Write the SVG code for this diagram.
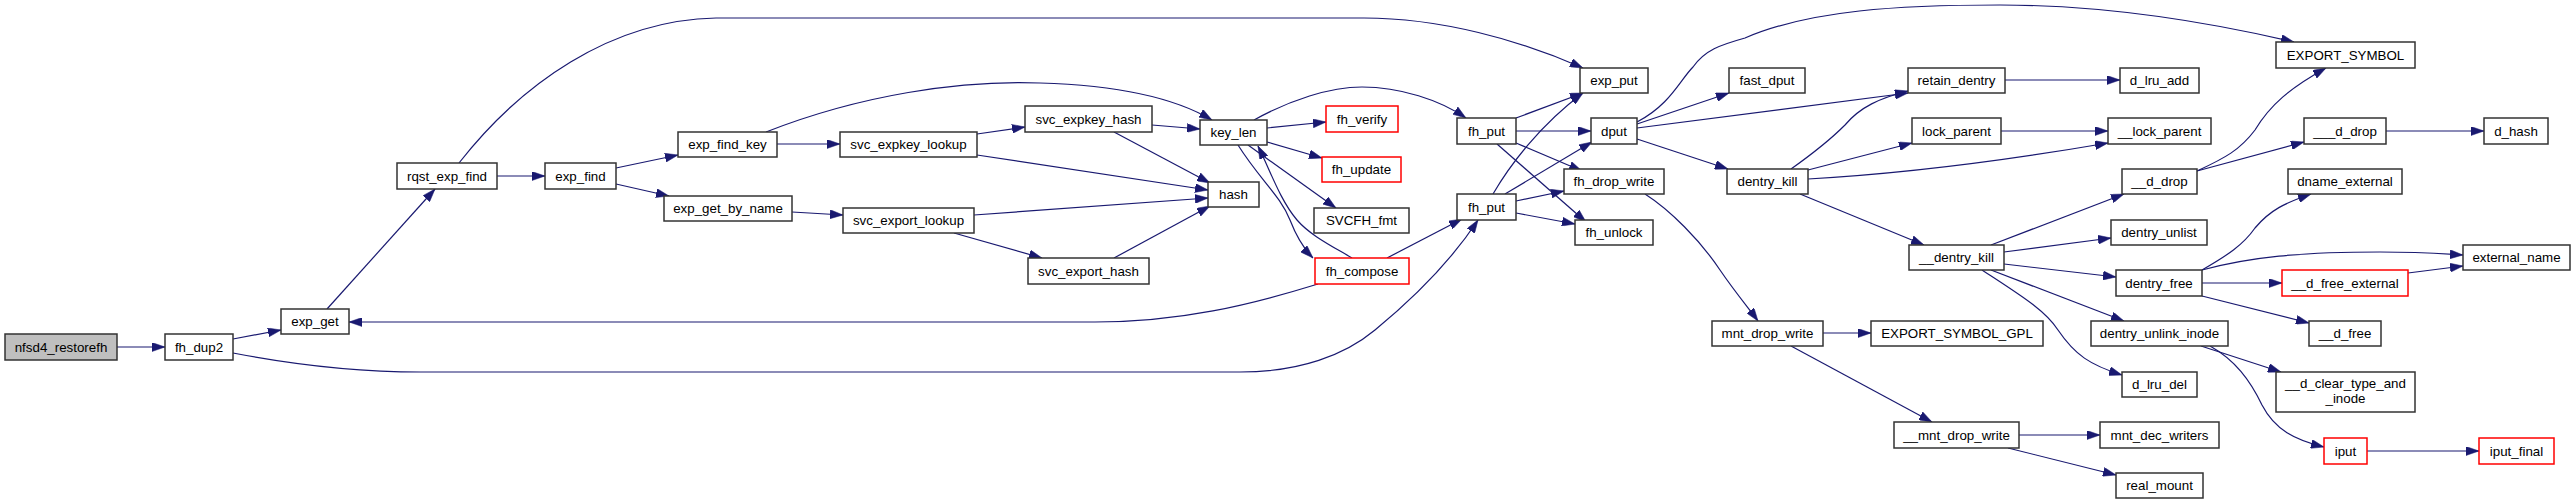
<svg xmlns="http://www.w3.org/2000/svg" width="2575" height="504" viewBox="0 0 2575 504">
<style>
.n rect{fill:#fff;stroke:#333;stroke-width:1.5}
.n.r rect{stroke:#f00}
.n.root rect{fill:#bfbfbf}
.n text{font-family:"Liberation Sans",Arial,sans-serif;font-size:13.33px;fill:#000;text-anchor:middle}
.e path{fill:none;stroke:#191970;stroke-width:1.2;marker-end:url(#a)}
</style>
<defs>
<marker id="a" viewBox="0 0 13 9" refX="13" refY="4.5" markerWidth="13" markerHeight="9" markerUnits="userSpaceOnUse" orient="auto">
<path d="M0,0 L13,4.5 L0,9 z" fill="#191970" stroke="#191970" stroke-width="0.5"/>
</marker>
</defs>
<rect width="2575" height="504" fill="#fff"/>
<g class="e" id="edges">
<path d="M117,347 L165,347"/>
<path d="M233,339 L281,330"/>
<path d="M233,353 C290,364 350,372 421,372 L1240,372 C1300,372 1345,355 1375,330 C1420,293 1455,255 1478,220"/>
<path d="M327,309 L435,189"/>
<path d="M497,176 L545,176"/>
<path d="M459,163 C520,85 610,20 716,18 L1364,18 C1440,18 1520,40 1583,68"/>
<path d="M616,168 L678,155"/>
<path d="M616,184 L669,196"/>
<path d="M777,144 L840,144"/>
<path d="M766,132 C860,95 960,80 1040,83 C1110,85 1170,95 1212,120"/>
<path d="M977,134 L1025,127"/>
<path d="M977,155 L1208,190"/>
<path d="M1152,125 L1200,129"/>
<path d="M1114,132 L1210,183"/>
<path d="M792,212 L843,215"/>
<path d="M974,215 L1208,198"/>
<path d="M954,233 L1042,258"/>
<path d="M1114,258 L1210,206"/>
<path d="M1254,120 C1290,100 1330,87 1362,87 C1400,87 1440,100 1466,118"/>
<path d="M1267,128 L1326,122"/>
<path d="M1267,142 L1322,158"/>
<path d="M1248,145 L1336,208"/>
<path d="M1238,145 C1260,180 1280,195 1290,220 C1297,238 1305,250 1313,258"/>
<path d="M1352,258 C1330,245 1310,235 1297,220 C1280,200 1270,170 1258,146"/>
<path d="M1318,284 C1250,305 1180,322 1095,322 L349,322"/>
<path d="M1387,258 L1462,219"/>
<path d="M1516,118 L1583,93"/>
<path d="M1516,131 L1591,131"/>
<path d="M1516,143 L1582,171"/>
<path d="M1497,144 L1586,222"/>
<path d="M1493,194 C1510,165 1540,125 1583,93"/>
<path d="M1505,194 L1592,142"/>
<path d="M1516,201 L1564,191"/>
<path d="M1516,213 L1575,224"/>
<path d="M1637,122 C1670,105 1680,80 1693,67 C1705,50 1720,45 1745,38 C1810,10 1900,5 2000,5 C2100,5 2200,20 2294,42"/>
<path d="M1637,124 L1729,93"/>
<path d="M1637,128 L1908,93"/>
<path d="M1637,139 L1728,169"/>
<path d="M1645,194 C1670,210 1700,240 1720,270 C1735,292 1750,310 1758,321"/>
<path d="M1791,169 C1815,152 1830,140 1845,125 C1860,107 1880,98 1908,91"/>
<path d="M1808,170 L1912,143"/>
<path d="M1808,179 C1880,175 1980,165 2108,143"/>
<path d="M1800,194 L1924,245"/>
<path d="M2005,80 L2120,80"/>
<path d="M2001,131 L2108,131"/>
<path d="M1991,245 L2124,194"/>
<path d="M2004,252 L2111,238"/>
<path d="M2004,264 L2116,277"/>
<path d="M1991,270 L2124,321"/>
<path d="M1982,270 C2020,295 2045,310 2058,330 C2075,355 2090,365 2122,375"/>
<path d="M2197,171 C2225,158 2240,150 2255,130 C2270,105 2290,88 2326,68"/>
<path d="M2197,171 L2304,142"/>
<path d="M2386,131 L2484,131"/>
<path d="M2202,270 C2228,255 2243,245 2255,228 C2270,210 2285,203 2311,194"/>
<path d="M2202,270 C2250,257 2300,252 2380,252 C2420,252 2445,254 2463,255"/>
<path d="M2202,283 L2282,283"/>
<path d="M2202,296 L2309,323"/>
<path d="M2408,273 L2463,266"/>
<path d="M2201,346 L2281,372"/>
<path d="M2210,346 C2235,360 2250,380 2262,405 C2275,430 2295,440 2324,447"/>
<path d="M2367,451 L2479,451"/>
<path d="M1823,333 L1871,333"/>
<path d="M1791,346 L1932,422"/>
<path d="M2019,435 L2100,435"/>
<path d="M2008,448 L2116,475"/>
</g>
<g class="n root" id="nfsd4_restorefh"><rect x="5" y="334" width="112" height="26"/><text x="61" y="352">nfsd4_restorefh</text></g>
<g class="n" id="fh_dup2"><rect x="165" y="334" width="68" height="26"/><text x="199" y="352">fh_dup2</text></g>
<g class="n" id="exp_get"><rect x="281" y="309" width="68" height="25"/><text x="315" y="326">exp_get</text></g>
<g class="n" id="rqst_exp_find"><rect x="397" y="163" width="100" height="26"/><text x="447" y="181">rqst_exp_find</text></g>
<g class="n" id="exp_find"><rect x="545" y="163" width="71" height="26"/><text x="580.5" y="181">exp_find</text></g>
<g class="n" id="exp_find_key"><rect x="678" y="132" width="99" height="25"/><text x="727.5" y="149">exp_find_key</text></g>
<g class="n" id="exp_get_by_name"><rect x="664" y="196" width="128" height="25"/><text x="728" y="213">exp_get_by_name</text></g>
<g class="n" id="svc_expkey_lookup"><rect x="840" y="132" width="137" height="25"/><text x="908.5" y="149">svc_expkey_lookup</text></g>
<g class="n" id="svc_export_lookup"><rect x="843" y="208" width="131" height="25"/><text x="908.5" y="225">svc_export_lookup</text></g>
<g class="n" id="svc_expkey_hash"><rect x="1025" y="106" width="127" height="26"/><text x="1088.5" y="124">svc_expkey_hash</text></g>
<g class="n" id="svc_export_hash"><rect x="1028" y="258" width="121" height="26"/><text x="1088.5" y="276">svc_export_hash</text></g>
<g class="n" id="key_len"><rect x="1200" y="120" width="67" height="25"/><text x="1233.5" y="137">key_len</text></g>
<g class="n" id="hash"><rect x="1208" y="182" width="51" height="25"/><text x="1233.5" y="199">hash</text></g>
<g class="n r" id="fh_verify"><rect x="1326" y="106" width="72" height="26"/><text x="1362" y="124">fh_verify</text></g>
<g class="n r" id="fh_update"><rect x="1322" y="157" width="79" height="25"/><text x="1361.5" y="174">fh_update</text></g>
<g class="n" id="SVCFH_fmt"><rect x="1314" y="208" width="95" height="25"/><text x="1361.5" y="225">SVCFH_fmt</text></g>
<g class="n r" id="fh_compose"><rect x="1315" y="258" width="94" height="26"/><text x="1362" y="276">fh_compose</text></g>
<g class="n" id="fh_put1"><rect x="1457" y="118" width="59" height="26"/><text x="1486.5" y="136">fh_put</text></g>
<g class="n" id="fh_put2"><rect x="1457" y="194" width="59" height="26"/><text x="1486.5" y="212">fh_put</text></g>
<g class="n" id="exp_put"><rect x="1580" y="68" width="68" height="25"/><text x="1614" y="85">exp_put</text></g>
<g class="n" id="dput"><rect x="1591" y="118" width="46" height="26"/><text x="1614" y="136">dput</text></g>
<g class="n" id="fh_drop_write"><rect x="1564" y="169" width="100" height="25"/><text x="1614" y="186">fh_drop_write</text></g>
<g class="n" id="fh_unlock"><rect x="1575" y="220" width="78" height="25"/><text x="1614" y="237">fh_unlock</text></g>
<g class="n" id="fast_dput"><rect x="1729" y="68" width="76" height="25"/><text x="1767" y="85">fast_dput</text></g>
<g class="n" id="dentry_kill"><rect x="1727" y="169" width="81" height="25"/><text x="1767.5" y="186">dentry_kill</text></g>
<g class="n" id="mnt_drop_write"><rect x="1712" y="321" width="111" height="25"/><text x="1767.5" y="338">mnt_drop_write</text></g>
<g class="n" id="EXPORT_SYMBOL_GPL"><rect x="1871" y="321" width="172" height="25"/><text x="1957" y="338">EXPORT_SYMBOL_GPL</text></g>
<g class="n" id="retain_dentry"><rect x="1908" y="68" width="97" height="25"/><text x="1956.5" y="85">retain_dentry</text></g>
<g class="n" id="lock_parent"><rect x="1912" y="118" width="89" height="26"/><text x="1956.5" y="136">lock_parent</text></g>
<g class="n" id="__dentry_kill"><rect x="1909" y="245" width="95" height="25"/><text x="1956.5" y="262">__dentry_kill</text></g>
<g class="n" id="__mnt_drop_write"><rect x="1894" y="422" width="125" height="26"/><text x="1956.5" y="440">__mnt_drop_write</text></g>
<g class="n" id="d_lru_add"><rect x="2120" y="68" width="79" height="25"/><text x="2159.5" y="85">d_lru_add</text></g>
<g class="n" id="__lock_parent"><rect x="2108" y="118" width="103" height="26"/><text x="2159.5" y="136">__lock_parent</text></g>
<g class="n" id="__d_drop"><rect x="2122" y="169" width="75" height="25"/><text x="2159.5" y="186">__d_drop</text></g>
<g class="n" id="dentry_unlist"><rect x="2111" y="220" width="96" height="25"/><text x="2159" y="237">dentry_unlist</text></g>
<g class="n" id="dentry_free"><rect x="2116" y="270" width="86" height="26"/><text x="2159" y="288">dentry_free</text></g>
<g class="n" id="dentry_unlink_inode"><rect x="2091" y="321" width="137" height="25"/><text x="2159.5" y="338">dentry_unlink_inode</text></g>
<g class="n" id="d_lru_del"><rect x="2122" y="372" width="75" height="25"/><text x="2159.5" y="389">d_lru_del</text></g>
<g class="n" id="mnt_dec_writers"><rect x="2100" y="422" width="119" height="26"/><text x="2159.5" y="440">mnt_dec_writers</text></g>
<g class="n" id="real_mount"><rect x="2116" y="473" width="87" height="25"/><text x="2159.5" y="490">real_mount</text></g>
<g class="n" id="EXPORT_SYMBOL"><rect x="2276" y="42" width="139" height="26"/><text x="2345.5" y="60">EXPORT_SYMBOL</text></g>
<g class="n" id="___d_drop"><rect x="2304" y="118" width="82" height="26"/><text x="2345" y="136">___d_drop</text></g>
<g class="n" id="dname_external"><rect x="2288" y="169" width="114" height="25"/><text x="2345" y="186">dname_external</text></g>
<g class="n r" id="__d_free_external"><rect x="2282" y="270" width="126" height="26"/><text x="2345" y="288">__d_free_external</text></g>
<g class="n" id="__d_free"><rect x="2309" y="321" width="72" height="25"/><text x="2345" y="338">__d_free</text></g>
<g class="n" id="__d_clear_type_and_inode"><rect x="2276" y="372" width="139" height="40"/><text x="2345.5" y="388">__d_clear_type_and</text><text x="2345.5" y="403">_inode</text></g>
<g class="n r" id="iput"><rect x="2324" y="438" width="43" height="26"/><text x="2345.5" y="456">iput</text></g>
<g class="n" id="d_hash"><rect x="2484" y="118" width="64" height="26"/><text x="2516" y="136">d_hash</text></g>
<g class="n" id="external_name"><rect x="2463" y="245" width="107" height="25"/><text x="2516.5" y="262">external_name</text></g>
<g class="n r" id="iput_final"><rect x="2479" y="438" width="75" height="26"/><text x="2516.5" y="456">iput_final</text></g>
</svg>
